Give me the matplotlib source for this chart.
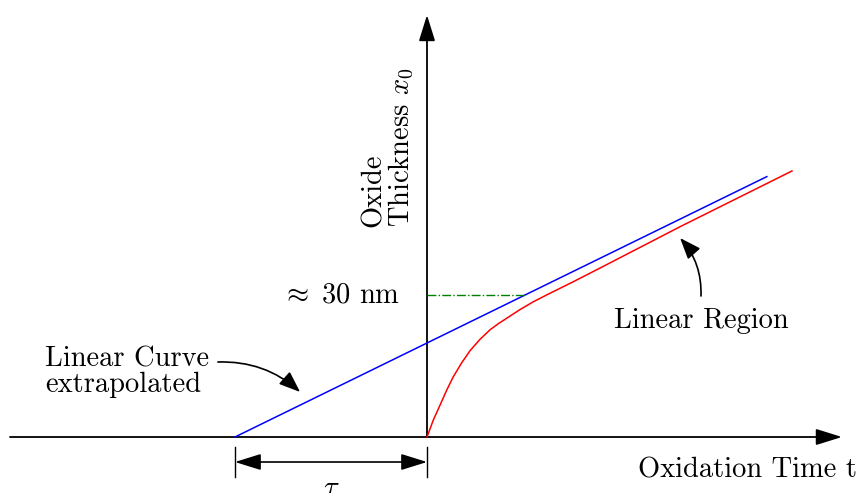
import numpy as np
import matplotlib.pyplot as plt
from matplotlib.patches import FancyArrowPatch

plt.rcParams['font.family'] = ['cmr10', 'DejaVu Serif']
plt.rcParams['mathtext.fontset'] = 'cm'
plt.rcParams['axes.unicode_minus'] = False

# linear growth line, extrapolated back to the time axis (t = -tau)
blue_t = [-1.0, 1.77]
blue_x = [0.0, 2.77]

# measured oxide growth
red_t = [0.0, 0.033, 0.068, 0.103, 0.137, 0.181, 0.224, 0.276, 0.328, 0.371,
         0.415, 0.484, 0.554, 0.623, 0.693, 0.762, 0.832, 0.901, 1.318, 1.901]
red_x = [0.0, 0.181, 0.340, 0.500, 0.641, 0.790, 0.918, 1.039, 1.140, 1.205,
         1.263, 1.355, 1.439, 1.511, 1.582, 1.652, 1.725, 1.797, 2.237, 2.830]

x_30nm = 1.51
tau = -1.0
fs = 20.5

fig = plt.figure(figsize=(8.62, 4.93), dpi=100)
ax = fig.add_axes([0, 0, 1, 1])
ax.set_xlim(-427 / 192, 435 / 192)
ax.set_ylim(-56 / 94, 437 / 94)
ax.axis('off')


def arrow(p0, p1, style='-|>', rad=0.0, lw=1.2, hl=10, hw=3.5):
    a = FancyArrowPatch(p0, p1, arrowstyle=f'{style},head_length={hl},head_width={hw}',
                        connectionstyle=f'arc3,rad={rad}', color='black', lw=lw,
                        shrinkA=0, shrinkB=0, mutation_scale=1)
    ax.add_patch(a)

# axes
arrow((-2.172, 0), (2.161, 0), lw=1.3, hl=16, hw=5)
arrow((0, 0), (0, 4.489), lw=1.3, hl=16, hw=5)

# curves
ax.plot(blue_t, blue_x, color='blue', lw=1.1)
ax.plot(red_t, red_x, color='red', lw=1.1)

# 30 nm level
t_hit = np.interp(x_30nm, blue_x, blue_t)
ax.plot([0, t_hit], [x_30nm, x_30nm], color='#008000', lw=1.0, ls='-.')
ax.text(-0.141, x_30nm, r'$\approx\;$30 nm', ha='right', va='center', fontsize=fs)

# tau dimension
for t in (tau, 0):
    ax.plot([t, t], [-0.106, -0.426], color='black', lw=1.0)
arrow((tau, -0.266), (0, -0.266), style='<|-|>', lw=1.2, hl=16, hw=5)
ax.text((tau + 0) / 2, -0.415, r'$\tau$', ha='center', va='top', fontsize=fs)

# labels
ax.text(-0.203, 2.234, 'Oxide\nThickness $x_0$', rotation=90, ha='center',
        va='bottom', multialignment='left', fontsize=fs, linespacing=1.0)
ax.text(1.667, -0.351, 'Oxidation Time t', ha='center', va='center', fontsize=fs)
ax.text(-1.99, 0.69, 'Linear Curve\nextrapolated', ha='left', va='center',
        fontsize=fs, linespacing=0.95)
ax.text(1.427, 1.234, 'Linear Region', ha='center', va='center', fontsize=fs)

arrow((-1.089, 0.798), (-0.661, 0.479), rad=-0.2, lw=1.2, hl=13, hw=5)
arrow((1.427, 1.5), (1.318, 2.117), rad=0.2, lw=1.2, hl=13, hw=5)

fig.savefig('out.png', dpi=100)
